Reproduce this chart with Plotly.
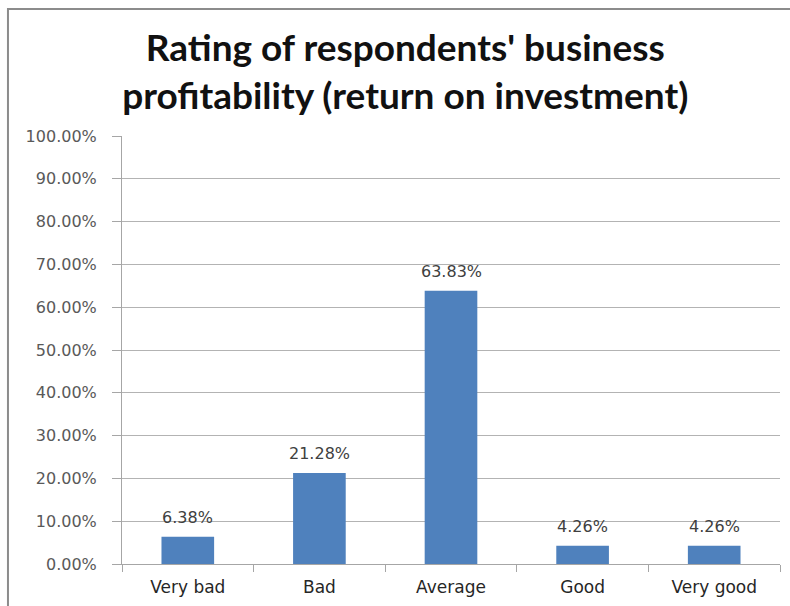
import plotly.graph_objects as go

categories = ["Very bad", "Bad", "Average", "Good", "Very good"]
shares = [0.0638, 0.2128, 0.6383, 0.0426, 0.0426]
y_ticks = [i / 10 for i in range(11)]

BAR_BLUE = "#4F81BD"
AXIS_GRAY = "#a6a6a6"
LABEL_FONT = "DejaVu Sans"

fig = go.Figure(
    go.Bar(
        x=categories,
        y=shares,
        marker=dict(color=BAR_BLUE, line=dict(width=0)),
        width=0.4,
        hovertemplate="%{x}: %{y:.2%}<extra></extra>",
    )
)

# value labels sitting above each bar
value_labels = [
    dict(
        x=c,
        y=v,
        text=f"{v:.2%}",
        showarrow=False,
        xref="x",
        yref="y",
        yanchor="bottom",
        yshift=8,
        font=dict(family=LABEL_FONT, size=16, color="#404040"),
    )
    for c, v in zip(categories, shares)
]

fig.update_layout(
    width=790,
    height=606,
    margin=dict(l=122, r=10, t=136, b=42),
    paper_bgcolor="white",
    plot_bgcolor="white",
    showlegend=False,
    title=dict(
        text="<b>Rating of respondents' business<br>profitability (return on investment)</b>",
        font=dict(family="Lato", size=37, color="#111111"),
        x=0.513,
        xanchor="center",
        y=0.9,
        yanchor="middle",
    ),
    xaxis=dict(
        type="category",
        showline=True,
        linecolor=AXIS_GRAY,
        linewidth=1,
        ticks="outside",
        tickson="boundaries",
        ticklen=7,
        tickcolor=AXIS_GRAY,
        ticklabelstandoff=8,
        tickfont=dict(family=LABEL_FONT, size=17, color="#262626"),
        showgrid=False,
    ),
    yaxis=dict(
        range=[0, 1],
        tickvals=y_ticks,
        tickformat=".2%",
        showline=True,
        linecolor=AXIS_GRAY,
        linewidth=1,
        ticks="outside",
        ticklen=9,
        tickcolor=AXIS_GRAY,
        ticklabelstandoff=12,
        showgrid=True,
        gridcolor="#b3b3b3",
        gridwidth=1,
        zeroline=False,
        tickfont=dict(family=LABEL_FONT, size=16, color="#595959"),
    ),
    annotations=value_labels,
    shapes=[
        dict(
            type="rect",
            xref="paper",
            yref="paper",
            x0=-0.1733,
            x1=1.05,
            y0=-0.12,
            y1=1.2967,
            line=dict(color="#8c8c8c", width=2),
            fillcolor="rgba(0,0,0,0)",
            layer="below",
        )
    ],
)

fig.write_html("out.html")
